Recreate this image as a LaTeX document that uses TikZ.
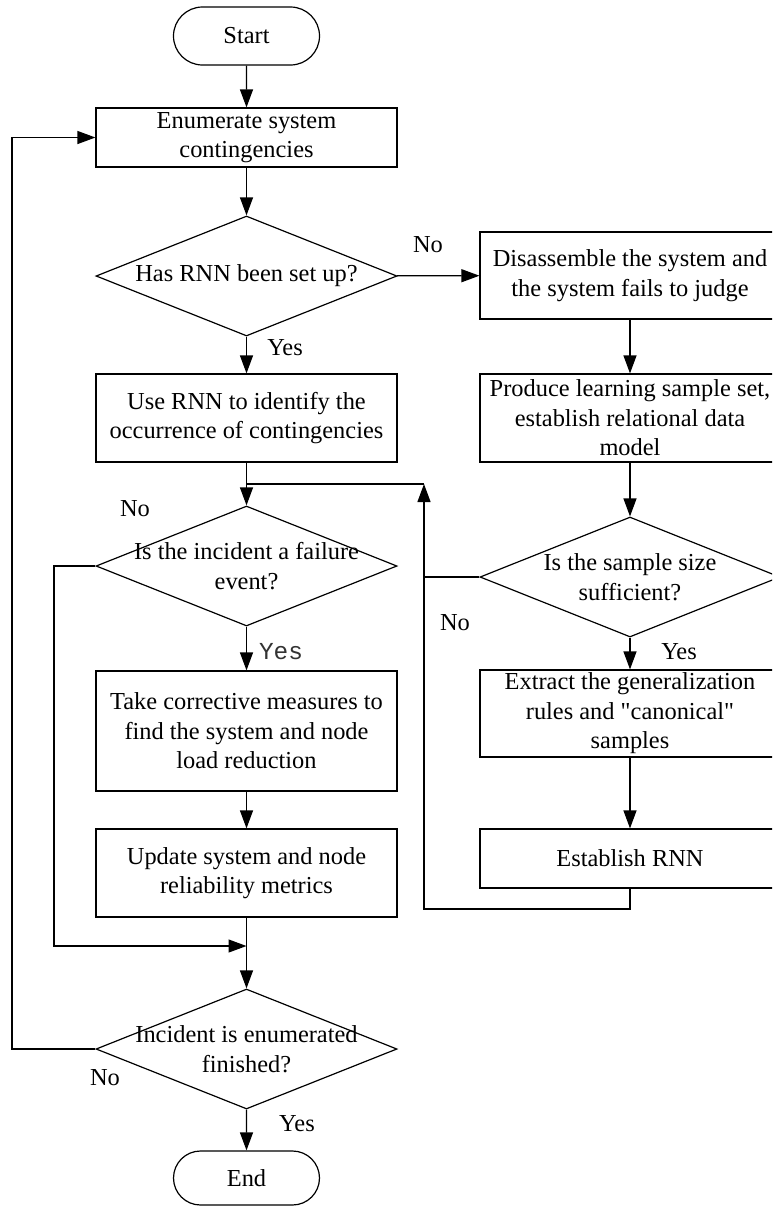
\documentclass[tikz,border=0pt]{standalone}
\usepackage{fontspec}
\setmainfont{Liberation Serif}
\newfontfamily\yesfont{Liberation Mono}
\usetikzlibrary{arrows.meta,shapes.geometric,shapes.misc}

\begin{document}
\begin{tikzpicture}[x=0.5pt,y=-0.5pt]
\tikzset{every node/.style={font=\fontsize{12.2}{14.8}\selectfont},
proc/.style={draw,line width=0.6pt,rectangle,minimum width=150.5pt,inner sep=0pt,align=center},
term/.style={draw,line width=0.6pt,rounded rectangle,minimum width=73pt,minimum height=29pt,inner sep=0pt},
decide/.style={draw,line width=0.6pt,diamond,minimum width=150.5pt,minimum height=60pt,inner sep=0pt},
tag/.style={inner sep=0pt},
>={Triangle[length=9pt,width=6.5pt]}}
\useasboundingbox (0,0) rectangle (772,1206);
\clip (0,0) rectangle (772,1206);

% left column
\node[term] (start) at (246.5,36) {Start};
\node[proc,minimum height=29.5pt] (enum) at (246.5,137.5) {Enumerate system\\contingencies};
\node[decide,label={center:Has RNN been set up?}] (has-rnn) at (246.5,276) {};
\node[proc,minimum height=44pt] (use-rnn) at (246.5,418) {Use RNN to identify the\\occurrence of contingencies};
\node[decide,label={[align=center]center:{Is the incident a failure\\event?}}] (is-failure) at (246.5,566) {};
\node[proc,minimum height=60pt] (corrective) at (246.5,731) {Take corrective measures to\\find the system and node\\load reduction};
\node[proc,minimum height=44pt] (update) at (246.5,873) {Update system and node\\reliability metrics};
\node[decide,label={[align=center]center:{Incident is enumerated\\finished?}}] (finished) at (246.5,1049) {};
\node[term,minimum height=27pt] (end) at (246.5,1178) {End};

% right column
\node[proc,minimum width=150pt,minimum height=43.5pt] (disassemble) at (630,275.5) {Disassemble the system and\\the system fails to judge};
\node[proc,minimum width=150pt,minimum height=44pt] (produce) at (630,418) {Produce learning sample set,\\establish relational data\\model};
\node[decide,minimum width=150pt,label={[align=center]center:{Is the sample size\\sufficient?}}] (sufficient) at (630,577) {};
\node[proc,minimum width=150pt,minimum height=43.5pt] (extract) at (630,713.5) {Extract the generalization\\rules and \textquotedbl canonical\textquotedbl\\samples};
\node[proc,minimum width=150pt,minimum height=29.5pt] (establish) at (630,858.5) {Establish RNN};

\coordinate (join-top) at (246.5,484);
\coordinate (join-bot) at (246.5,946);
\coordinate (back-top) at (424,484);
\coordinate (back-bot) at (424,909);
\coordinate (skip) at (54,946);
\coordinate (loop) at (12,1049);

\path[draw,line width=0.6pt,->]
(start) edge (enum)
(enum) edge (has-rnn)
(has-rnn) edge (use-rnn)
(use-rnn) edge (is-failure)
(is-failure) edge (corrective)
(corrective) edge (update)
(update) edge (finished)
(finished) edge (end)
(has-rnn) edge (disassemble)
(disassemble) edge (produce)
(produce) edge (sufficient)
(sufficient) edge (extract)
(extract) edge (establish);

\draw[line width=0.6pt,->] (establish.south) |- (back-bot) -- (back-top);
\draw[line width=0.6pt] (back-top) -- (join-top);
\draw[line width=0.6pt] (sufficient.west) -- (sufficient.west -| back-top);
\draw[line width=0.6pt,->] (is-failure.west) -| (skip) -- (join-bot);
\draw[line width=0.6pt,->] (finished.west) -- (loop) |- (enum.west);

\node[tag] (no-1) at (428,245) {No};
\node[tag] (yes-1) at (285,348) {Yes};
\node[tag] (no-2) at (135,509) {No};
\node[tag,font=\yesfont\fontsize{12.2}{14.8}\selectfont,text=black!80] (yes-2) at (281,652) {Yes};
\node[tag] (no-3) at (455,623) {No};
\node[tag] (yes-3) at (679,652) {Yes};
\node[tag] (no-4) at (105,1078) {No};
\node[tag] (yes-4) at (297,1124) {Yes};
\end{tikzpicture}
\end{document}
